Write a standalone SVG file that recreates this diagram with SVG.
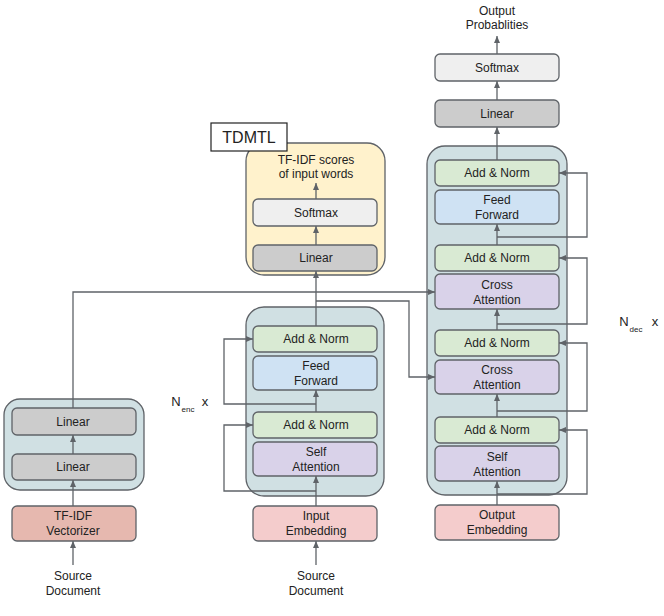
<svg xmlns="http://www.w3.org/2000/svg" width="664" height="616" viewBox="0 0 664 616">
<style>
text{font-family:"Liberation Sans",Arial,sans-serif;font-size:12px;fill:#222;text-anchor:middle}
.c{fill:#d0e0e3;stroke:#5f6368;stroke-width:1.3}
.b{stroke:#5f6368;stroke-width:1.3}
.an{fill:#d9ead3}.ff{fill:#cfe2f3}.at{fill:#d9d2e9}.li{fill:#cccccc}.sm{fill:#efefef}.em{fill:#f4cccc}.vz{fill:#e6b8af}
.w{fill:none;stroke:#5f6368;stroke-width:1.3}
.a{marker-end:url(#ah)}
</style>
<defs>
<marker id="ah" viewBox="0 0 8 8" refX="7" refY="4" markerWidth="8" markerHeight="8" markerUnits="userSpaceOnUse" orient="auto">
<path d="M0,1 L7,4 L0,7 z" fill="#5f6368"/>
</marker>
</defs>

<!-- containers -->
<g id="tfidf-block"><rect class="c" x="4" y="399" width="140" height="91" rx="16"/></g>
<g id="tdmtl-block"><rect x="246" y="143" width="139" height="132" rx="18" fill="#fff2cc" stroke="#5f6368" stroke-width="1.3"/></g>
<g id="encoder"><rect class="c" x="246" y="307" width="138" height="189" rx="18"/></g>
<g id="decoder"><rect class="c" x="427" y="146" width="140" height="349" rx="18"/></g>

<g id="connectors">
<!-- left -->
<path class="w a" d="M73,565 V541"/>
<path class="w a" d="M73,506 V480"/>
<path class="w a" d="M73,454 V435"/>
<path class="w a" d="M73,408 V292 H435"/>
<!-- middle -->
<path class="w a" d="M316,565 V541"/>
<path class="w a" d="M316,506 V476"/>
<path class="w a" d="M316,491 H224 V425 H253"/>
<path class="w a" d="M316,412 V390"/>
<path class="w a" d="M316,404 H224 V339 H253"/>
<path class="w a" d="M316,326 V271"/>
<path class="w a" d="M316,301 H409 V377 H435"/>
<path class="w a" d="M316,245 V226"/>
<path class="w a" d="M316,199 V183"/>
<!-- decoder -->
<path class="w a" d="M497,505 V481"/>
<path class="w a" d="M497,494 H587 V430 H559"/>
<path class="w a" d="M497,417 V394"/>
<path class="w a" d="M497,411 H587 V343 H559"/>
<path class="w a" d="M497,330 V309"/>
<path class="w a" d="M497,324 H587 V258 H559"/>
<path class="w a" d="M497,245 V224"/>
<path class="w a" d="M497,237 H587 V173 H559"/>
<path class="w a" d="M497,160 V127"/>
<path class="w a" d="M497,100 V81"/>
<path class="w a" d="M497,54 V36"/>
</g>

<!-- left nodes -->
<g id="linear-top-left"><rect class="b li" x="12" y="408" width="124" height="27" rx="5"/><text x="73" y="426">Linear</text></g>
<g id="linear-bottom-left"><rect class="b li" x="12" y="454" width="124" height="26" rx="5"/><text x="73" y="471">Linear</text></g>
<g id="tfidf-vectorizer"><rect class="b vz" x="12" y="506" width="124" height="35" rx="5"/><text x="73" y="520">TF-IDF</text><text x="73" y="535">Vectorizer</text></g>
<g id="src-doc-left"><text x="73" y="580">Source</text><text x="73" y="595">Document</text></g>

<!-- TDMTL -->
<g id="tdmtl-label"><rect x="211" y="123" width="76" height="28" fill="#fff" stroke="#222" stroke-width="1.2"/><text x="249" y="143" style="font-size:16px">TDMTL</text></g>
<g id="tfidf-scores"><text x="316" y="164">TF-IDF scores</text><text x="316" y="178">of input words</text></g>
<g id="softmax-mid"><rect class="b sm" x="253" y="199" width="124" height="27" rx="5"/><text x="316" y="217">Softmax</text></g>
<g id="linear-mid"><rect class="b li" x="253" y="245" width="124" height="26" rx="5"/><text x="316" y="262">Linear</text></g>

<!-- encoder -->
<g id="enc-addnorm2"><rect class="b an" x="253" y="326" width="124" height="26" rx="5"/><text x="316" y="343">Add &amp; Norm</text></g>
<g id="enc-ff"><rect class="b ff" x="253" y="356" width="124" height="34" rx="5"/><text x="316" y="370">Feed</text><text x="316" y="385">Forward</text></g>
<g id="enc-addnorm1"><rect class="b an" x="253" y="412" width="124" height="26" rx="5"/><text x="316" y="429">Add &amp; Norm</text></g>
<g id="enc-selfatt"><rect class="b at" x="253" y="442" width="124" height="34" rx="5"/><text x="316" y="456">Self</text><text x="316" y="471">Attention</text></g>
<g id="input-embedding"><rect class="b em" x="253" y="506" width="124" height="35" rx="5"/><text x="316" y="520">Input</text><text x="316" y="535">Embedding</text></g>
<g id="src-doc-mid"><text x="316" y="580">Source</text><text x="316" y="595">Document</text></g>
<g id="nenc"><text x="176" y="406" style="font-size:13px">N</text><text x="188" y="412" style="font-size:8px">enc</text><text x="205" y="406" style="font-size:13px">x</text></g>

<!-- decoder -->
<g id="output-probs"><text x="497" y="15">Output</text><text x="497" y="29">Probablities</text></g>
<g id="softmax-dec"><rect class="b sm" x="435" y="54" width="124" height="27" rx="5"/><text x="497" y="72">Softmax</text></g>
<g id="linear-dec"><rect class="b li" x="435" y="100" width="124" height="27" rx="5"/><text x="497" y="118">Linear</text></g>
<g id="dec-addnorm4"><rect class="b an" x="435" y="160" width="124" height="26" rx="5"/><text x="497" y="177">Add &amp; Norm</text></g>
<g id="dec-ff"><rect class="b ff" x="435" y="190" width="124" height="34" rx="5"/><text x="497" y="204">Feed</text><text x="497" y="219">Forward</text></g>
<g id="dec-addnorm3"><rect class="b an" x="435" y="245" width="124" height="26" rx="5"/><text x="497" y="262">Add &amp; Norm</text></g>
<g id="dec-crossatt2"><rect class="b at" x="435" y="274" width="124" height="35" rx="5"/><text x="497" y="289">Cross</text><text x="497" y="304">Attention</text></g>
<g id="dec-addnorm2"><rect class="b an" x="435" y="330" width="124" height="26" rx="5"/><text x="497" y="347">Add &amp; Norm</text></g>
<g id="dec-crossatt1"><rect class="b at" x="435" y="360" width="124" height="34" rx="5"/><text x="497" y="374">Cross</text><text x="497" y="389">Attention</text></g>
<g id="dec-addnorm1"><rect class="b an" x="435" y="417" width="124" height="26" rx="5"/><text x="497" y="434">Add &amp; Norm</text></g>
<g id="dec-selfatt"><rect class="b at" x="435" y="446" width="124" height="35" rx="5"/><text x="497" y="461">Self</text><text x="497" y="476">Attention</text></g>
<g id="output-embedding"><rect class="b em" x="435" y="505" width="124" height="35" rx="5"/><text x="497" y="519">Output</text><text x="497" y="534">Embedding</text></g>
<g id="ndec"><text x="624" y="326" style="font-size:13px">N</text><text x="636" y="332" style="font-size:8px">dec</text><text x="655" y="326" style="font-size:13px">x</text></g>
</svg>
